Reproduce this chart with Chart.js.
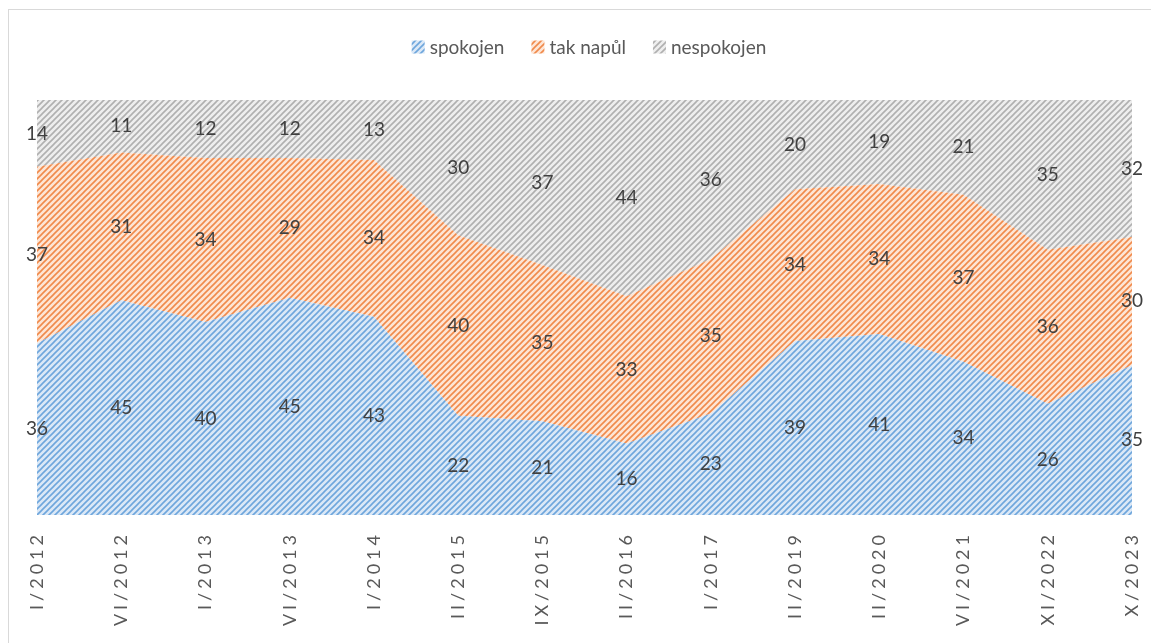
<!DOCTYPE html>
<html>
<head>
<meta charset="utf-8">
<script src="https://cdn.jsdelivr.net/npm/chart.js@4/dist/chart.umd.min.js"></script>
<style>
  html, body { margin: 0; padding: 0; background: #fff; }
  #wrap { position: relative; width: 1151px; height: 643px; overflow: hidden; }
  #frame { position: absolute; left: 8px; top: 9px; width: 1160px; height: 700px;
           border: 1.5px solid #d9d9d9; box-sizing: border-box; }
  canvas { position: absolute; left: 0; top: 0; }
</style>
</head>
<body>
<div id="wrap">
  <div id="frame"></div>
  <canvas id="c" width="1151" height="643"></canvas>
</div>
<script>
// období průzkumu
var periods = ['I/2012', 'VI/2012', 'I/2013', 'VI/2013', 'I/2014', 'II/2015', 'IX/2015',
               'II/2016', 'I/2017', 'II/2019', 'II/2020', 'VI/2021', 'XI/2022', 'X/2023'];

// hodnoty z popisků (v %)
var spokojen   = [36, 45, 40, 45, 43, 22, 21, 16, 23, 39, 41, 34, 26, 35];
var takNapul   = [37, 31, 34, 29, 34, 40, 35, 33, 35, 34, 34, 37, 36, 30];
var nespokojen = [14, 11, 12, 12, 13, 30, 37, 44, 36, 20, 19, 21, 35, 32];

var seriesNames = ['spokojen', 'tak napůl', 'nespokojen'];

// graf je 100% skládaný: podíl z odpovědí bez "nevím"
function shares(arr) {
    return arr.map(function (v, i) {
        return v / (spokojen[i] + takNapul[i] + nespokojen[i]) * 100;
    });
}

// šrafování jako v Excelu (široká šikmá čára nahoru)
function hatch(bg, fg) {
    var s = 6;
    var t = document.createElement('canvas');
    t.width = s; t.height = s;
    var g = t.getContext('2d');
    g.fillStyle = bg;
    g.fillRect(0, 0, s, s);
    g.strokeStyle = fg;
    g.lineWidth = 1.6;
    g.beginPath();
    g.moveTo(-2, s + 2); g.lineTo(s + 2, -2);
    g.moveTo(-2, 2); g.lineTo(2, -2);
    g.moveTo(s - 2, s + 2); g.lineTo(s + 2, s - 2);
    g.stroke();
    return document.getElementById('c').getContext('2d').createPattern(t, 'repeat');
}

var fills = [
    hatch('#dbe8f6', '#6ea6dc'),
    hatch('#fde5d5', '#f08a4b'),
    hatch('#eeeeee', '#b0b0b0')
];
var raw = [spokojen, takNapul, nespokojen];

var FONT = 'Lato, "Open Sans", sans-serif';

// popisky hodnot uprostřed pásů + vlastní legenda
var labelsPlugin = {
    id: 'bandLabels',
    beforeDraw: function (chart) {
        chart.ctx.letterSpacing = '4px';
    },
    beforeDatasetsDraw: function (chart) {
        chart.ctx.letterSpacing = '0px';
    },
    afterDatasetsDraw: function (chart) {
        var ctx = chart.ctx;
        var bottom = chart.scales.y.getPixelForValue(0);
        ctx.save();
        ctx.font = '19px ' + FONT;
        ctx.fillStyle = '#404040';
        ctx.textAlign = 'center';
        ctx.textBaseline = 'middle';
        var prev = null;
        chart.data.datasets.forEach(function (ds, di) {
            var pts = chart.getDatasetMeta(di).data;
            pts.forEach(function (p, j) {
                var lo = prev ? prev[j].y : bottom;
                ctx.fillText(String(raw[di][j]), p.x, (p.y + lo) / 2);
            });
            prev = pts;
        });

        // legenda
        ctx.font = '19px ' + FONT;
        ctx.textAlign = 'left';
        var box = 13, gap = 5, sep = 27;
        var widths = seriesNames.map(function (n) { return box + gap + ctx.measureText(n).width; });
        var total = widths.reduce(function (a, b) { return a + b; }, 0) + sep * (widths.length - 1);
        var x = 589 - total / 2, y = 47;
        seriesNames.forEach(function (n, i) {
            ctx.fillStyle = fills[i];
            ctx.fillRect(x, y - box / 2, box, box);
            ctx.fillStyle = '#595959';
            ctx.fillText(n, x + box + gap, y + 1);
            x += widths[i] + sep;
        });
        ctx.restore();
    }
};

new Chart(document.getElementById('c'), {
    type: 'line',
    data: {
        labels: periods,
        datasets: [
            { label: seriesNames[0], data: shares(spokojen), backgroundColor: fills[0], fill: 'origin' },
            { label: seriesNames[1], data: shares(takNapul), backgroundColor: fills[1], fill: '-1' },
            { label: seriesNames[2], data: shares(nespokojen), backgroundColor: fills[2], fill: '-1' }
        ]
    },
    options: {
        responsive: false,
        animation: false,
        devicePixelRatio: 1,
        layout: { padding: { left: 37, right: 19, top: 100, bottom: 0 } },
        elements: {
            line: { borderWidth: 0, tension: 0 },
            point: { radius: 0, hoverRadius: 0 }
        },
        plugins: {
            legend: { display: false },
            tooltip: { enabled: false }
        },
        scales: {
            x: {
                offset: false,
                grid: { display: false },
                border: { display: false },
                ticks: {
                    autoSkip: false,
                    minRotation: 90,
                    maxRotation: 90,
                    padding: 8,
                    color: '#595959',
                    font: { family: FONT, size: 18 }
                },
                afterFit: function (s) {
                    s.height = 128;
                    s.paddingLeft = 0;
                    s.paddingRight = 0;
                }
            },
            y: {
                display: false,
                stacked: true,
                min: 0,
                max: 100
            }
        }
    },
    plugins: [labelsPlugin]
});
</script>
</body>
</html>
